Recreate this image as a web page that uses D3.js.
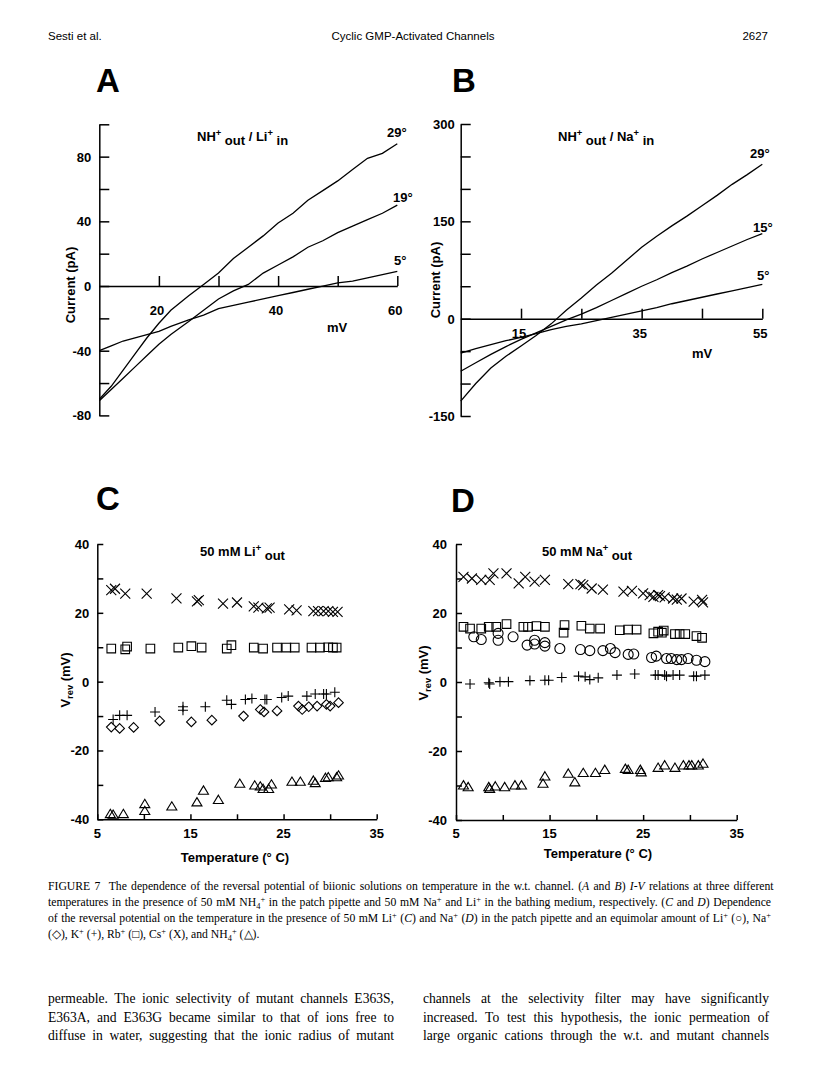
<!DOCTYPE html>
<html>
<head>
<meta charset="utf-8">
<script src="https://cdn.jsdelivr.net/npm/d3@7"></script>
<style>
  body { margin: 0; background: #fff; }
  svg { display: block; }
  .sans { font-family: "Liberation Sans", Arial, Helvetica, sans-serif; }
  .serif { font-family: "Liberation Serif", "Times New Roman", serif; }
</style>
</head>
<body>
<div id="page"></div>
<script>
// ---- panel A: NH4+ out / Li+ in, current (pA) vs mV ----
const voltA = [10, 12, 14, 16, 18, 20, 22, 25, 27.5, 30, 32.5, 35, 37.5, 40, 42.5, 45, 47.5, 50, 52.5, 55, 57.5, 60];
const currA29 = [-70, -62, -52, -42, -32, -23, -15, -6, 1, 8, 17, 24, 31, 39, 45, 53, 59, 65, 72, 79, 82, 88];
const currA19 = [-71, -64, -57, -50, -43, -36, -30, -22, -15, -8, -3, 1, 8, 13, 18, 24, 28, 33, 37, 41, 45, 50];
const currA5 = [-40, -37, -34, -32, -30, -28, -25, -21, -18, -14, -12, -10, -8, -6, -4, -2, 0, 2, 3, 5, 7, 9];
const tempsA = ['29°', '19°', '5°'];

// ---- panel B: NH4+ out / Na+ in ----
const voltB = [5, 7.5, 10, 12.5, 15, 17.5, 20, 22.5, 25, 27.5, 30, 32.5, 35, 37.5, 40, 42.5, 45, 47.5, 50, 52.5, 55];
const currB29 = [-127, -100, -76, -58, -42, -26, -8, 13, 32, 52, 70, 90, 110, 127, 143, 158, 174, 190, 207, 222, 238];
const currB15 = [-81, -68, -55, -43, -32, -22, -12, -2, 7, 17, 28, 39, 50, 60, 71, 81, 92, 102, 112, 122, 131];
const currB5 = [-53, -46, -40, -34, -29, -23, -17, -12, -8, -3, 2, 7, 12, 17, 23, 28, 33, 38, 43, 48, 53];
const tempsB = ['29°', '15°', '5°'];

// ---- panel C: 50 mM Li+ out, Vrev (mV) vs temperature ----
const cCsT = [6.5, 6.9, 8.0, 10.3, 13.5, 15.7, 15.9, 18.5, 20.0, 21.8, 22.3, 23.2, 23.5, 25.6, 26.4, 28.2, 28.7, 29.3, 29.8, 30.3, 30.8];
const cCsV = [26.6, 27.0, 25.6, 25.6, 24.2, 23.3, 23.7, 22.7, 23.0, 21.9, 21.5, 21.3, 21.5, 21.0, 20.7, 20.5, 20.5, 20.5, 20.5, 20.3, 20.3];
const cRbT = [6.5, 8.0, 8.2, 10.7, 13.7, 15.1, 16.2, 18.9, 19.4, 21.8, 22.8, 24.3, 25.3, 26.2, 28.0, 28.9, 29.8, 30.3, 30.7];
const cRbV = [9.6, 9.4, 10.2, 9.6, 9.9, 10.3, 9.9, 9.6, 10.6, 9.9, 9.6, 9.9, 9.9, 9.9, 9.9, 9.9, 10.0, 9.9, 9.9];
const cKT = [6.7, 7.4, 8.2, 11.2, 14.2, 14.2, 16.6, 18.9, 19.4, 20.9, 21.6, 23.0, 23.2, 24.8, 25.5, 27.5, 28.4, 29.3, 29.6, 30.5];
const cKV = [-11.0, -9.8, -9.8, -8.8, -7.3, -8.3, -7.3, -5.4, -6.6, -5.2, -4.9, -5.2, -5.2, -4.6, -4.2, -4.2, -3.6, -3.6, -3.6, -3.1];
const cNaT = [6.5, 7.4, 8.9, 11.7, 15.1, 17.3, 20.7, 22.5, 22.9, 24.3, 26.6, 27.0, 27.7, 28.6, 29.6, 30.0, 30.9];
const cNaV = [-13.2, -13.6, -13.3, -11.4, -11.7, -11.2, -10.0, -8.1, -8.8, -8.5, -7.1, -8.1, -7.3, -7.1, -6.6, -7.1, -6.1];
const cNhT = [6.4, 6.7, 7.8, 10.1, 10.1, 13.0, 15.7, 16.4, 18.0, 20.3, 21.9, 22.5, 22.8, 23.4, 23.7, 25.9, 26.8, 28.2, 28.4, 29.5, 29.8, 30.7, 30.9];
const cNhV = [-38.4, -38.6, -38.4, -35.5, -37.5, -36.2, -35.0, -31.6, -34.3, -29.6, -30.1, -30.4, -31.1, -31.1, -29.8, -29.0, -29.0, -28.7, -29.4, -27.9, -27.7, -27.7, -27.2];

// ---- panel D: 50 mM Na+ out ----
const dCsT = [5.8, 6.7, 7.7, 8.6, 9.0, 10.4, 11.7, 12.4, 13.4, 14.5, 17.0, 18.3, 18.6, 19.5, 20.7, 22.9, 23.8, 25.0, 25.7, 26.1, 26.6, 26.8, 27.3, 28.2, 28.6, 29.1, 30.4, 31.3, 31.4];
const dCsV = [30.5, 30.0, 29.6, 29.6, 31.5, 31.5, 28.6, 30.5, 29.1, 29.6, 28.4, 28.4, 28.1, 27.1, 26.8, 26.2, 26.4, 25.7, 25.2, 24.7, 25.2, 24.9, 24.5, 24.2, 23.9, 24.2, 23.3, 23.8, 23.1];
const dRbT = [5.8, 6.5, 7.7, 8.5, 9.3, 10.4, 12.2, 12.7, 13.6, 14.5, 16.5, 16.6, 18.4, 19.3, 20.4, 22.5, 23.4, 24.3, 26.1, 26.6, 27.0, 27.2, 28.4, 28.9, 29.5, 30.7, 31.3];
const dRbV = [16.0, 15.5, 15.5, 16.0, 16.0, 16.8, 16.0, 16.0, 16.2, 16.0, 14.3, 16.5, 16.3, 15.5, 15.5, 15.0, 15.2, 15.2, 14.1, 14.6, 14.3, 14.9, 13.9, 13.9, 13.9, 13.3, 12.8];
const dLiT = [6.9, 7.7, 9.5, 9.5, 11.1, 12.6, 13.4, 13.4, 14.5, 14.5, 16.1, 18.3, 19.3, 20.7, 21.5, 22.0, 23.4, 24.0, 25.9, 26.4, 27.5, 28.0, 28.6, 29.1, 29.8, 30.7, 31.6];
const dLiV = [13.1, 12.3, 12.1, 14.1, 13.1, 10.7, 12.1, 11.0, 11.4, 10.4, 9.7, 9.4, 9.1, 9.1, 9.7, 8.5, 8.0, 8.1, 7.1, 7.5, 6.8, 6.8, 6.5, 6.5, 6.8, 6.3, 5.9];
const dKT = [6.5, 8.5, 8.6, 9.7, 10.6, 12.9, 14.5, 14.9, 16.3, 18.1, 18.8, 19.3, 20.2, 22.2, 24.1, 26.3, 26.6, 27.3, 27.5, 28.2, 28.9, 30.4, 30.7, 31.6];
const dKV = [-0.6, -0.2, -0.6, 0.1, 0.1, 0.4, 0.5, 0.5, 1.3, 1.7, 1.5, 0.7, 1.2, 2.0, 2.3, 2.0, 2.0, 2.0, 1.7, 2.0, 2.0, 1.7, 1.7, 2.0];
const dNhT = [5.8, 6.3, 8.5, 8.6, 9.2, 10.2, 11.3, 12.0, 14.3, 14.5, 17.0, 17.7, 18.6, 19.9, 20.9, 23.1, 23.4, 24.7, 24.8, 26.6, 27.3, 28.4, 29.3, 29.9, 30.2, 30.9, 31.4];
const dNhV = [-29.9, -30.4, -30.4, -30.9, -30.2, -30.4, -29.9, -29.9, -29.4, -27.3, -26.5, -29.0, -26.3, -26.3, -25.4, -25.1, -25.4, -25.4, -26.1, -24.8, -24.1, -24.8, -24.1, -24.1, -24.1, -24.1, -23.6];

const page = d3.select('#page');
const svg = page.append('svg').attr('width', 816).attr('height', 1078);

const boldSans = (sel, size) => sel.attr('class', 'sans').style('font-weight', 'bold').style('font-size', `${size}px`);

// rich text: segments [text, kind] where kind is '', 'i', 'sup', 'sub', 'low' (lowered full size)
const richText = (textSel, segs, size) => {
  let off = 0;
  segs.forEach(([t, kind]) => {
    let want = 0;
    let fs = size;
    if (kind === 'sup') { want = -size * 0.38; fs = size * 0.72; }
    if (kind === 'sub') { want = size * 0.22; fs = size * 0.72; }
    if (kind === 'low') { want = size * 0.3; }
    const ts = textSel.append('tspan').text(t).style('font-size', `${fs}px`).attr('dy', want - off);
    if (kind === 'i') ts.style('font-style', 'italic');
    off = want;
  });
};

/**
 * header
 */
const header = svg.append('g').attr('class', 'sans').style('font-size', '11.5px');
header.append('text').attr('x', 48).attr('y', 40).text('Sesti et al.');
header.append('text').attr('x', 413).attr('y', 40).attr('text-anchor', 'middle').text('Cyclic GMP-Activated Channels');
header.append('text').attr('x', 768).attr('y', 40).attr('text-anchor', 'end').text('2627');

/**
 * I-V panels (A and B)
 */
const ivPanel = (p) => {
  const g = svg.append('g');
  const x = d3.scaleLinear().domain(p.xDom).range(p.xRange);
  const y = d3.scaleLinear().domain(p.yDom).range(p.yRange);

  g.append('text').call(boldSans, 33).attr('x', p.letter[0]).attr('y', p.letter[1]).text(p.name);

  // y axis, ticks pointing right
  g.append('g')
    .attr('transform', `translate(${x.range()[0]},0)`)
    .call(d3.axisRight(y).tickValues(p.yTicks).tickSize(10).tickSizeOuter(0).tickFormat(''))
    .call((a) => a.selectAll('line,path').attr('stroke', '#000').attr('stroke-width', 1.5));
  // x axis along zero, ticks pointing up
  g.append('g')
    .attr('transform', `translate(0,${y(0)})`)
    .call(d3.axisTop(x).tickValues(p.xTicks).tickSize(10).tickSizeOuter(0).tickFormat(''))
    .call((a) => a.selectAll('line,path').attr('stroke', '#000').attr('stroke-width', 1.5));

  p.yLabels.forEach((v) => {
    g.append('text').call(boldSans, 13).attr('x', x.range()[0] - p.yLabDx).attr('y', y(v) + 5)
      .attr('text-anchor', 'end').text(v);
  });
  p.xLabels.forEach((v) => {
    g.append('text').call(boldSans, 13).attr('x', x(v) - 2).attr('y', p.xLabY)
      .attr('text-anchor', 'middle').text(v);
  });
  g.append('text').call(boldSans, 13).attr('x', p.mv[0]).attr('y', p.mv[1]).text('mV');
  g.append('text').call(boldSans, 13)
    .attr('transform', `translate(${p.yTitle[0]},${p.yTitle[1]}) rotate(-90)`)
    .attr('text-anchor', 'middle').attr('dy', '0.35em').text('Current (pA)');

  const title = g.append('text').call(boldSans, 13).attr('x', p.title[0]).attr('y', p.title[1]);
  richText(title, p.titleSegs, 13);

  const line = d3.line().x((d) => x(d[0])).y((d) => y(d[1]));
  p.curves.forEach((c, i) => {
    g.append('path').datum(p.volt.map((v, j) => [v, c[j]]))
      .attr('d', line).attr('fill', 'none').attr('stroke', '#000').attr('stroke-width', 1.3);
    g.append('text').call(boldSans, 13).attr('x', p.tempPos[i][0]).attr('y', p.tempPos[i][1]).text(p.temps[i]);
  });
};

ivPanel({
  name: 'A',
  letter: [96, 92],
  xDom: [10, 60], xRange: [99.3, 397.3],
  yDom: [-80, 100], yRange: [415.4, 124.3],
  yTicks: d3.range(-80, 101, 20), xTicks: [20, 30, 40, 50, 60],
  yLabels: [80, 40, 0, -40, -80], xLabels: [20, 40, 60],
  yLabDx: 8, xLabY: 315,
  mv: [327, 332], yTitle: [70, 285],
  title: [197, 141],
  titleSegs: [['NH', ''], ['+', 'sup'], [' out', 'low'], [' /  Li', ''], ['+', 'sup'], [' in', 'low']],
  volt: voltA, curves: [currA29, currA19, currA5], temps: tempsA,
  tempPos: [[387, 137], [393, 202], [394, 265]],
});

ivPanel({
  name: 'B',
  letter: [452, 92],
  xDom: [5, 55], xRange: [460.7, 762.3],
  yDom: [-150, 300], yRange: [416, 124],
  yTicks: d3.range(-150, 301, 50), xTicks: [15, 25, 35, 45, 55],
  yLabels: [300, 150, 0, -150], xLabels: [15, 35, 55],
  yLabDx: 6, xLabY: 338,
  mv: [692, 358], yTitle: [435, 280],
  title: [558, 141],
  titleSegs: [['NH', ''], ['+', 'sup'], [' out', 'low'], [' /  Na', ''], ['+', 'sup'], [' in', 'low']],
  volt: voltB, curves: [currB29, currB15, currB5], temps: tempsB,
  tempPos: [[750, 158], [753, 232], [757, 280]],
});

/**
 * Vrev vs temperature panels (C and D)
 */
const shapes = {
  cs: 'M-5,-5L5,5M-5,5L5,-5',
  rb: 'M-4.3,-4.3H4.3V4.3H-4.3Z',
  k: 'M-5,0H5M0,-5V5',
  na: 'M0,-4.8L4.8,0L0,4.8L-4.8,0Z',
  nh: 'M0,-4.5L5,3.8H-5Z',
  li: 'M5,0A5,5 0 1,1 -5,0A5,5 0 1,1 5,0Z',
};

const tempPanel = (p) => {
  const g = svg.append('g');
  const x = d3.scaleLinear().domain([5, 35]).range(p.xRange);
  const y = d3.scaleLinear().domain([-40, 40]).range(p.yRange);

  g.append('text').call(boldSans, 33).attr('x', p.letter[0]).attr('y', p.letter[1]).text(p.name);

  g.append('g')
    .attr('transform', `translate(${x.range()[0]},0)`)
    .call(d3.axisRight(y).tickValues(d3.range(-40, 41, 10)).tickSize(6).tickSizeOuter(0).tickFormat(''))
    .call((a) => a.selectAll('line,path').attr('stroke', '#000').attr('stroke-width', 1.5));
  g.append('g')
    .attr('transform', `translate(0,${y(-40)})`)
    .call(d3.axisTop(x).tickValues(d3.range(5, 36, 5)).tickSize(5).tickSizeOuter(0).tickFormat(''))
    .call((a) => a.selectAll('line,path').attr('stroke', '#000').attr('stroke-width', 1.5));

  [40, 20, 0, -20, -40].forEach((v) => {
    g.append('text').call(boldSans, 13).attr('x', x.range()[0] - p.yLabDx).attr('y', y(v) + 5)
      .attr('text-anchor', 'end').text(v);
  });
  [5, 15, 25, 35].forEach((v) => {
    g.append('text').call(boldSans, 13).attr('x', x(v)).attr('y', 838)
      .attr('text-anchor', 'middle').text(v);
  });
  g.append('text').call(boldSans, 13).attr('x', p.xTitle[0]).attr('y', p.xTitle[1])
    .attr('text-anchor', 'middle').text('Temperature (° C)');
  const yt = g.append('text').call(boldSans, 13)
    .attr('transform', `translate(${p.yTitle[0]},${p.yTitle[1]}) rotate(-90)`)
    .attr('text-anchor', 'middle').attr('dy', '0.35em');
  richText(yt, [['V', ''], ['rev', 'sub'], [' (mV)', '']], 13);

  const title = g.append('text').call(boldSans, 13).attr('x', p.title[0]).attr('y', p.title[1]);
  richText(title, p.titleSegs, 13);

  p.series.forEach(([key, ts, vs]) => {
    g.append('g').selectAll('path')
      .data(ts.map((t, i) => [t, vs[i]]))
      .enter()
      .append('path')
      .attr('d', shapes[key])
      .attr('transform', (d) => `translate(${x(d[0])},${y(d[1])})`)
      .attr('fill', 'none')
      .attr('stroke', '#000')
      .attr('stroke-width', 1.1);
  });
};

tempPanel({
  name: 'C',
  letter: [96, 510],
  xRange: [97.3, 376.7], yRange: [819.3, 544],
  yLabDx: 8,
  xTitle: [235, 862], yTitle: [70, 680],
  title: [200, 556],
  titleSegs: [['50 mM  Li', ''], ['+', 'sup'], [' out', 'low']],
  series: [['cs', cCsT, cCsV], ['rb', cRbT, cRbV], ['k', cKT, cKV], ['na', cNaT, cNaV], ['nh', cNhT, cNhV]],
});

tempPanel({
  name: 'D',
  letter: [451, 512],
  xRange: [456, 736.7], yRange: [820, 544],
  yLabDx: 9,
  xTitle: [598, 858], yTitle: [428, 673],
  title: [542, 556],
  titleSegs: [['50 mM  Na', ''], ['+', 'sup'], [' out', 'low']],
  series: [['cs', dCsT, dCsV], ['rb', dRbT, dRbV], ['li', dLiT, dLiV], ['k', dKT, dKV], ['nh', dNhT, dNhV]],
});

/**
 * caption and body text, justified by word spacing
 */
const captionLines = [
  [['FIGURE 7', ''], ['\u00a0\u00a0The dependence of the reversal potential of biionic solutions on temperature in the w.t. channel. (', ''], ['A', 'i'], [' and ', ''], ['B', 'i'], [') ', ''], ['I-V', 'i'], [' relations at three different', '']],
  [['temperatures in the presence of 50 mM NH', ''], ['4', 'sub'], ['+', 'sup'], [' in the patch pipette and 50 mM Na', ''], ['+', 'sup'], [' and Li', ''], ['+', 'sup'], [' in the bathing medium, respectively. (', ''], ['C', 'i'], [' and ', ''], ['D', 'i'], [') Dependence', '']],
  [['of the reversal potential on the temperature in the presence of 50 mM Li', ''], ['+', 'sup'], [' (', ''], ['C', 'i'], [') and Na', ''], ['+', 'sup'], [' (', ''], ['D', 'i'], [') in the patch pipette and an equimolar amount of Li', ''], ['+', 'sup'], [' (\u25cb), Na', ''], ['+', 'sup']],
  [['(\u25c7), K', ''], ['+', 'sup'], [' (+), Rb', ''], ['+', 'sup'], [' (\u25a1), Cs', ''], ['+', 'sup'], [' (X), and NH', ''], ['4', 'sub'], ['+', 'sup'], [' (\u25b3).', '']],
];
const bodyLeft = [
  'permeable. The ionic selectivity of mutant channels E363S,',
  'E363A, and E363G became similar to that of ions free to',
  'diffuse in water, suggesting that the ionic radius of mutant',
];
const bodyRight = [
  'channels at the selectivity filter may have significantly',
  'increased. To test this hypothesis, the ionic permeation of',
  'large organic cations through the w.t. and mutant channels',
];

const justify = (t, width) => {
  const n = (t.text().match(/ /g) || []).length;
  const len = t.node().getComputedTextLength();
  if (n > 0) t.style('word-spacing', `${(width - len) / n}px`);
};

const cap = svg.append('g').attr('class', 'serif').style('font-size', '11.7px');
captionLines.forEach((segs, i) => {
  const t = cap.append('text').attr('x', 48).attr('y', 890 + i * 16);
  richText(t, segs, 11.7);
  if (i < captionLines.length - 1) justify(t, 723);
});

const body = svg.append('g').attr('class', 'serif').style('font-size', '13.6px');
[[bodyLeft, 48], [bodyRight, 423]].forEach(([lines, x0]) => {
  lines.forEach((s, i) => {
    const t = body.append('text').attr('x', x0).attr('y', 1003 + i * 18.5).text(s);
    justify(t, 346);
  });
});
</script>
</body>
</html>
